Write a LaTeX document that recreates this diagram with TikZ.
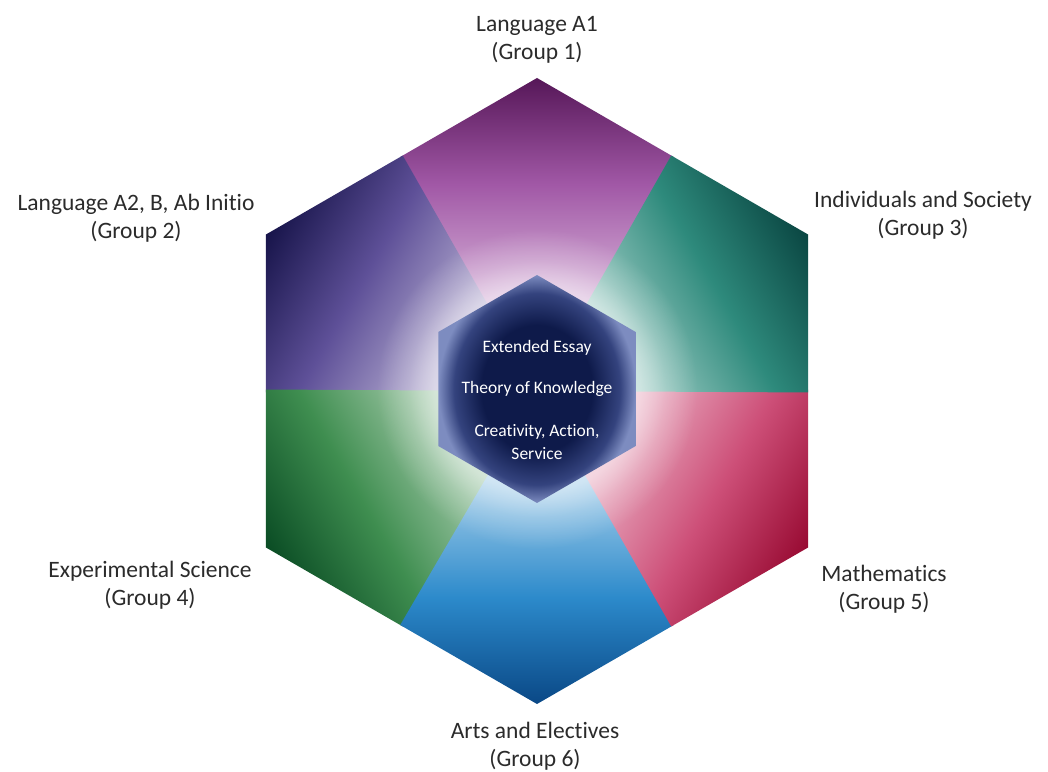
\documentclass[tikz,border=0pt]{standalone}
\usepackage{fontspec}
\usetikzlibrary{calc,fadings}
\setmainfont{Carlito}[Ligatures=NoCommon]
\newfontfamily\corefont{Carlito}[Ligatures=NoCommon]
% segment colours: dark (vertex), mid, light (centre)
\definecolor{dkA}{HTML}{561758}\definecolor{mdA}{HTML}{A158A6}\definecolor{ltA}{HTML}{F5E6F5}
\definecolor{dkB}{HTML}{17144A}\definecolor{mdB}{HTML}{5E5098}\definecolor{ltB}{HTML}{EEE9F5}
\definecolor{dkC}{HTML}{0A4C24}\definecolor{mdC}{HTML}{3F8E50}\definecolor{ltC}{HTML}{E8F2E8}
\definecolor{dkD}{HTML}{0A4886}\definecolor{mdD}{HTML}{2C8ACB}\definecolor{ltD}{HTML}{E8F4FB}
\definecolor{dkE}{HTML}{980A32}\definecolor{mdE}{HTML}{CD4F78}\definecolor{ltE}{HTML}{FAE8EF}
\definecolor{dkF}{HTML}{0A4642}\definecolor{mdF}{HTML}{2E8A7C}\definecolor{ltF}{HTML}{E2F4F0}
\definecolor{hexD}{HTML}{0E1A4A}\definecolor{hexM}{HTML}{34437E}\definecolor{hexL}{HTML}{7D8CC0}
\definecolor{labelgray}{HTML}{2B2B2B}
\newcommand\mksegshading[1]{%
  \colorlet{mix#1}{lt#1!55!md#1}%
  \pgfdeclareverticalshading{sh#1}{100bp}{color(0bp)=(lt#1); color(25bp)=(lt#1);
    color(42bp)=(mix#1); color(58bp)=(md#1); color(75bp)=(dk#1); color(100bp)=(dk#1)}}
\mksegshading{A}\mksegshading{B}\mksegshading{C}\mksegshading{D}\mksegshading{E}\mksegshading{F}
\pgfdeclareradialshading{hexsh}{\pgfpoint{0bp}{0bp}}{color(0bp)=(hexD); color(14bp)=(hexD);
  color(21bp)=(hexM); color(25bp)=(hexL); color(50bp)=(hexL)}
% faint white halo around the core
\pgfdeclareradialshading{glowsh}{\pgfpoint{0bp}{0bp}}{color(0bp)=(white!55!black); color(16bp)=(white!50!black);
  color(20bp)=(white!22!black); color(25bp)=(black); color(50bp)=(black)}
\pgfdeclarefading{glow}{\pgfuseshading{glowsh}}
\tikzset{
  grouplabel/.style={align=center, text=labelgray, font=\fontsize{23.5}{28}\selectfont, inner sep=0pt},
  coretext/.style={text=white, font=\corefont\fontsize{17.5}{23}\selectfont, inner sep=0pt, align=center}
}
\begin{document}
\begin{tikzpicture}[x=1pt,y=1pt]
\useasboundingbox (0,0) rectangle (1048,771);
\fill[white] (0,0) rectangle (1048,771);
% six kite segments
\foreach \ang/\nm in {0/A,60/B,120/C,180/D,240/E,300/F}{
  \begin{scope}[transform canvas={shift={(537,380)},rotate=\ang}]
    \shade[shading=sh\nm] (0,0) -- (136.8,234.0) -- (0,313) -- (-136.8,234.0) -- cycle;
  \end{scope}
}
% halo and central hexagon
\coordinate (c) at (537,382);
\fill[white, path fading=glow] (c) circle (160);
\shade[shading=hexsh] ($(c)+(90:114)$) -- ($(c)+(150:114)$) -- ($(c)+(210:114)$)
  -- ($(c)+(270:114)$) -- ($(c)+(330:114)$) -- ($(c)+(30:114)$) -- cycle;
\node[coretext] (ee) at (537,423) {Extended Essay};
\node[coretext] (tok) at (537,382) {Theory of Knowledge};
\node[coretext] (cas) at (537,329) {Creativity, Action,\\Service};
% group labels
\node[grouplabel] (g1) at (537,731) {Language A1\\(Group 1)};
\node[grouplabel] (g2) at (136,553) {Language A2, B, Ab Initio\\(Group 2)};
\node[grouplabel] (g3) at (923,556) {Individuals and Society\\(Group 3)};
\node[grouplabel] (g4) at (150,186) {Experimental Science\\(Group 4)};
\node[grouplabel] (g5) at (884,182) {Mathematics\\(Group 5)};
\node[grouplabel] (g6) at (535,25) {Arts and Electives\\(Group 6)};
\end{tikzpicture}
\end{document}
